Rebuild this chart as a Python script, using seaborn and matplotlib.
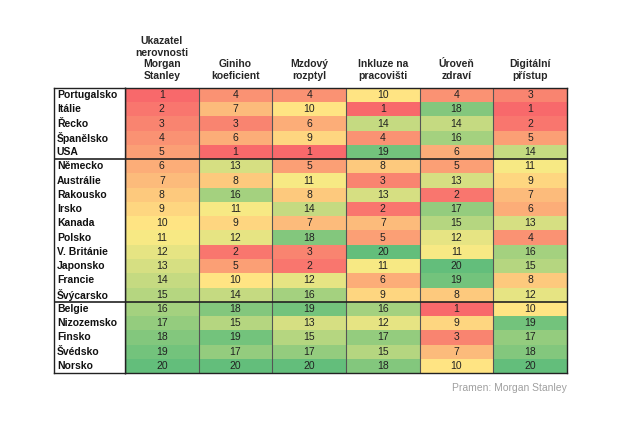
import matplotlib
matplotlib.use("Agg")
import matplotlib.pyplot as plt
import seaborn as sns
import numpy as np
import pandas as pd
from matplotlib.colors import LinearSegmentedColormap

# === Data ===
countries = ["Portugalsko", "Itálie", "Řecko", "Španělsko", "USA",
             "Německo", "Austrálie", "Rakousko", "Irsko", "Kanada",
             "Polsko", "V. Británie", "Japonsko", "Francie", "Švýcarsko",
             "Belgie", "Nizozemsko", "Finsko", "Švédsko", "Norsko"]
columns = ["Ukazatel\nnerovnosti\nMorgan\nStanley", "Giniho\nkoeficient",
           "Mzdový\nrozptyl", "Inkluze na\npracovišti", "Úroveň\nzdraví",
           "Digitální\npřístup"]
ms_index = [1, 2, 3, 4, 5, 6, 7, 8, 9, 10, 11, 12, 13, 14, 15, 16, 17, 18, 19, 20]
gini = [4, 7, 3, 6, 1, 13, 8, 16, 11, 9, 12, 2, 5, 10, 14, 18, 15, 19, 17, 20]
wage_spread = [4, 10, 6, 9, 1, 5, 11, 8, 14, 7, 18, 3, 2, 12, 16, 19, 13, 15, 17, 20]
inclusion = [10, 1, 14, 4, 19, 8, 3, 13, 2, 7, 5, 20, 11, 6, 9, 16, 12, 17, 15, 18]
health = [4, 18, 14, 16, 6, 5, 13, 2, 17, 15, 12, 11, 20, 19, 8, 1, 9, 3, 7, 10]
digital = [3, 1, 2, 5, 14, 11, 9, 7, 6, 13, 4, 16, 15, 8, 12, 10, 19, 17, 18, 20]
source = "Pramen: Morgan Stanley"

df = pd.DataFrame(
    np.column_stack([ms_index, gini, wage_spread, inclusion, health, digital]),
    index=countries, columns=columns)

# === Plot ===
sns.set_style("white")
plt.rcParams["font.family"] = ["Liberation Sans", "DejaVu Sans"]

W, H = 630, 436
fig = plt.figure(figsize=(6.3, 4.36), dpi=100)

x0, x1, x2 = 54, 125, 567
ytop, ybot = 88, 373

cmap = LinearSegmentedColormap.from_list("rag", ["#f8696b", "#ffeb84", "#63be7b"])

ax = fig.add_axes([x1 / W, 1 - ybot / H, (x2 - x1) / W, (ybot - ytop) / H])
sns.heatmap(df, ax=ax, cmap=cmap, vmin=1, vmax=20, cbar=False, annot=True,
            fmt="d", annot_kws={"fontsize": 7.5, "color": "#222222"},
            yticklabels=False)
ax.xaxis.tick_top()
ax.set_xticklabels(columns, rotation=0, fontsize=7.5, fontweight="bold",
                   ha="center", linespacing=1.2)
ax.tick_params(axis="x", length=0, pad=5)
ax.set_xlabel("")
ax.set_ylabel("")
ax.vlines(np.arange(1, len(columns)), 0, len(countries), color="#555555", lw=0.8)
ax.hlines([5, 15], 0, len(columns), color="#222222", lw=1.2)
for s in ax.spines.values():
    s.set_visible(True)
    s.set_color("#222222")
    s.set_linewidth(1.0)

# row-label column
lab = fig.add_axes([x0 / W, 1 - ybot / H, (x1 - x0) / W, (ybot - ytop) / H])
lab.set_xlim(0, 1)
lab.set_ylim(len(countries), 0)
lab.set_xticks([])
lab.set_yticks([])
for i, name in enumerate(countries):
    lab.text(0.04, i + 0.5, name, va="center", ha="left",
             fontsize=7.5, fontweight="bold", color="#111111")
lab.hlines([5, 15], 0, 1, color="#222222", lw=1.2)
for s in lab.spines.values():
    s.set_color("#222222")
    s.set_linewidth(1.0)

fig.text(x2 / W, 1 - 388 / H, source, ha="right", va="center",
         fontsize=7.5, color="#a0a0a0")

fig.savefig("out.png", dpi=100)
